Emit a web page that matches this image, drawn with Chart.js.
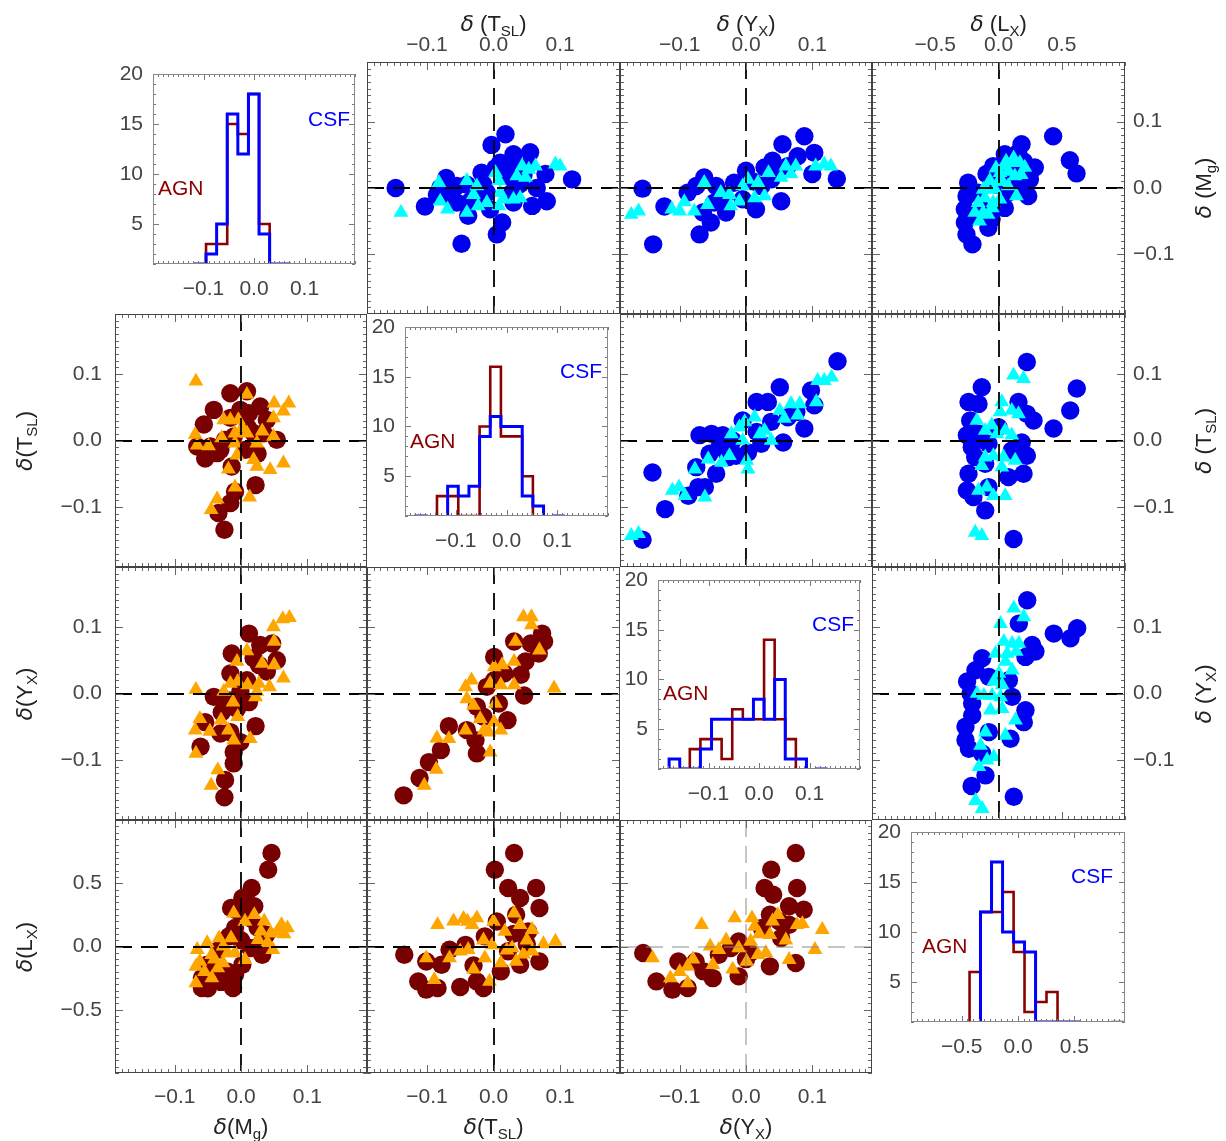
<!DOCTYPE html>
<html><head><meta charset="utf-8">
<script src="https://cdn.jsdelivr.net/npm/chart.js@4.4.1/dist/chart.umd.min.js"></script>
<style>
html,body{margin:0;padding:0;background:#fff;}
#wrap{position:relative;width:1226px;height:1141px;overflow:hidden;background:#fff;}
#wrap canvas{position:absolute;}
.t{position:absolute;font-family:'Liberation Sans',Arial,sans-serif;font-size:22px;color:#222;white-space:nowrap;line-height:1;}
.t i{font-style:italic;font-family:'DejaVu Sans',sans-serif;}
.t sub{font-size:15px;vertical-align:-5px;line-height:0;}
.hl{position:absolute;font-family:'Liberation Sans',Arial,sans-serif;font-size:21px;line-height:1;white-space:nowrap;}
</style></head>
<body><div id="wrap"></div>
<script>
// ---------------- tick labels ----------------
const TICKS_D = [-0.1, 0.0, 0.1];
const TICKS_L = [-0.5, 0.0, 0.5];
const TICKS_N = [5, 10, 15, 20];

// ---------------- CSF (upper triangle): [x, y] ----------------
const csfTslMgCirc = [[-0.147,0.000],[-0.103,-0.028],[-0.048,-0.084],[-0.071,0.015],[-0.080,0.000],[-0.085,-0.010],[-0.065,-0.015],[-0.055,0.003],[-0.055,-0.022],[-0.038,-0.042],[-0.018,0.023],[-0.025,-0.012],[-0.005,-0.032],[-0.003,0.065],[0.018,0.081],[0.010,0.038],[0.030,0.051],[0.055,0.054],[0.013,-0.052],[0.005,-0.070],[0.030,-0.022],[0.040,0.006],[0.058,-0.027],[0.080,-0.020],[0.078,0.021],[0.118,0.013],[0.020,0.018],[-0.010,-0.007],[0.028,-0.007],[-0.035,-0.020],[0.050,0.033],[0.003,0.030],[0.045,0.020],[0.025,0.035],[-0.040,0.005],[-0.015,0.005],[0.065,0.000]];
const csfTslMgTri = [[-0.139,-0.037],[-0.082,0.008],[-0.080,-0.020],[-0.069,-0.032],[-0.040,0.011],[-0.025,0.003],[-0.030,-0.010],[-0.023,-0.027],[-0.040,-0.037],[0.003,0.023],[0.008,0.011],[0.010,-0.007],[0.015,-0.017],[0.008,-0.027],[0.030,-0.017],[0.040,-0.015],[0.035,0.018],[0.043,0.033],[0.053,0.028],[0.063,0.033],[0.048,0.016],[0.093,0.036],[0.100,0.033],[-0.010,-0.022]];
const csfYxMgCirc = [[-0.156,-0.001],[-0.140,-0.085],[-0.123,-0.028],[-0.070,-0.070],[-0.053,-0.052],[-0.065,-0.037],[-0.088,-0.007],[-0.063,0.016],[-0.075,0.003],[-0.045,0.003],[-0.030,-0.037],[-0.048,-0.022],[-0.018,0.008],[0.000,0.026],[-0.005,-0.017],[0.015,-0.032],[0.028,0.031],[0.040,0.041],[0.053,-0.020],[0.055,0.066],[0.088,0.078],[0.078,0.048],[0.103,0.053],[0.100,0.021],[0.137,0.014],[0.023,0.003],[0.038,0.013],[0.063,0.033],[-0.033,-0.012],[0.010,0.010],[0.045,0.025]];
const csfYxMgTri = [[-0.173,-0.040],[-0.162,-0.035],[-0.112,-0.032],[-0.100,-0.035],[-0.093,-0.021],[-0.078,-0.035],[-0.058,-0.025],[-0.063,0.008],[-0.038,-0.007],[-0.025,-0.010],[-0.023,-0.027],[-0.010,-0.020],[-0.005,0.003],[0.003,0.013],[0.018,0.008],[0.013,-0.015],[0.028,-0.012],[0.034,0.023],[0.053,0.016],[0.060,0.033],[0.075,0.033],[0.068,0.021],[0.105,0.033],[0.118,0.036],[0.128,0.033]];
const csfLxMgCirc = [[0.432,0.078],[0.564,0.042],[0.617,0.022],[0.182,0.066],[0.050,0.051],[0.155,0.053],[0.287,0.031],[0.248,0.013],[0.235,-0.012],[-0.042,0.033],[-0.095,0.021],[-0.240,0.008],[-0.253,-0.012],[-0.266,-0.032],[-0.266,-0.052],[-0.253,-0.070],[-0.206,-0.085],[-0.055,-0.047],[0.050,-0.030],[-0.134,-0.032],[-0.161,-0.007],[0.076,-0.007],[0.129,0.023],[0.100,0.045],[0.200,0.040],[-0.020,0.005],[0.020,0.015],[-0.200,-0.040],[0.150,0.000],[-0.080,-0.060]];
const csfLxMgTri = [[-0.187,-0.037],[-0.121,-0.037],[-0.161,-0.022],[-0.108,-0.015],[-0.121,-0.002],[-0.069,0.011],[-0.029,-0.002],[0.011,0.023],[0.050,0.033],[0.103,0.038],[0.169,0.038],[0.208,0.031],[0.129,0.018],[0.076,0.003],[0.142,-0.012],[0.011,-0.017],[-0.042,-0.022],[-0.082,-0.040],[0.080,0.025],[0.030,0.010],[-0.150,-0.050],[-0.100,0.000],[-0.050,-0.030],[0.000,0.010],[0.060,0.040],[0.120,0.045],[0.180,0.020],[-0.020,0.030]];
const csfYxTslCirc = [[-0.156,-0.149],[-0.122,-0.103],[-0.141,-0.048],[-0.087,-0.083],[-0.072,-0.070],[-0.062,-0.070],[-0.075,-0.040],[-0.045,-0.050],[-0.070,0.008],[-0.052,0.010],[-0.035,0.008],[-0.040,-0.010],[-0.027,-0.025],[-0.015,-0.023],[0.003,-0.018],[-0.005,0.030],[0.016,0.058],[0.033,0.058],[0.051,0.080],[0.023,-0.005],[0.056,-0.003],[0.038,0.028],[0.063,0.035],[0.088,0.018],[0.098,0.075],[0.103,0.053],[0.138,0.119],[0.076,0.043],[0.016,0.013],[-0.055,-0.020],[-0.020,0.000]];
const csfYxTslTri = [[-0.173,-0.143],[-0.162,-0.140],[-0.111,-0.075],[-0.101,-0.070],[-0.092,-0.083],[-0.062,-0.085],[-0.077,-0.043],[-0.057,-0.028],[-0.037,-0.033],[-0.025,-0.023],[-0.022,0.010],[-0.010,0.020],[-0.002,0.028],[0.013,0.035],[-0.005,0.000],[0.001,-0.030],[0.003,-0.043],[0.021,0.010],[0.028,0.015],[0.038,0.000],[0.051,0.045],[0.058,0.033],[0.068,0.055],[0.081,0.055],[0.078,0.038],[0.106,0.058],[0.108,0.090],[0.118,0.090],[0.129,0.095]];
const csfLxTslCirc = [[0.224,0.118],[0.619,0.078],[0.567,0.045],[0.435,0.018],[0.277,0.030],[0.224,0.040],[0.158,0.058],[-0.132,0.080],[-0.237,0.058],[-0.158,0.055],[-0.224,0.030],[-0.250,0.008],[-0.211,-0.010],[-0.184,-0.025],[-0.237,-0.050],[-0.250,-0.075],[-0.198,-0.085],[-0.105,-0.105],[-0.079,-0.070],[-0.105,-0.035],[0.079,-0.055],[0.198,-0.050],[0.224,-0.023],[0.184,-0.003],[0.119,-0.148],[-0.079,-0.005],[0.105,-0.015],[-0.150,0.010],[0.000,0.020]];
const csfLxTslTri = [[0.119,0.098],[0.198,0.093],[0.026,0.058],[0.013,0.043],[0.105,0.045],[0.158,0.040],[-0.171,0.030],[-0.105,0.015],[-0.053,0.023],[0.053,0.015],[-0.013,0.010],[0.105,0.008],[-0.105,-0.025],[-0.040,-0.023],[-0.132,-0.038],[0.040,-0.025],[0.132,-0.030],[0.026,-0.040],[-0.158,-0.075],[-0.092,-0.070],[-0.040,-0.083],[0.053,-0.083],[-0.184,-0.138],[-0.132,-0.143]];
const csfLxYxCirc = [[0.227,0.140],[0.161,0.105],[0.437,0.090],[0.569,0.083],[0.622,0.098],[0.266,0.073],[0.292,0.063],[0.213,0.055],[-0.129,0.053],[-0.182,0.035],[-0.248,0.018],[-0.221,0.000],[-0.208,-0.015],[-0.208,-0.033],[-0.261,-0.050],[-0.261,-0.070],[-0.234,-0.083],[-0.129,-0.090],[-0.103,-0.123],[-0.213,-0.139],[0.121,-0.155],[0.095,-0.068],[0.200,-0.043],[0.213,-0.025],[0.108,-0.005],[0.082,0.020],[-0.076,0.025],[-0.076,-0.058]];
const csfLxYxTri = [[0.121,0.128],[0.200,0.115],[0.016,0.105],[0.042,0.078],[0.108,0.075],[0.161,0.075],[-0.024,0.060],[0.069,0.060],[0.140,0.063],[0.055,0.048],[0.108,0.035],[0.003,0.030],[-0.037,0.018],[0.029,0.013],[-0.169,0.000],[-0.116,-0.003],[-0.050,-0.003],[0.016,-0.005],[-0.063,-0.025],[0.029,-0.023],[0.134,-0.040],[-0.103,-0.058],[0.055,-0.063],[-0.142,-0.078],[-0.037,-0.095],[-0.090,-0.100],[-0.155,-0.110],[-0.182,-0.161],[-0.129,-0.173]];

// ---------------- AGN (lower triangle): [x, y] ----------------
const agnMgTslCirc = [[-0.025,-0.134],[-0.034,-0.109],[-0.016,-0.094],[-0.009,-0.077],[0.022,-0.067],[-0.016,0.071],[0.009,0.074],[-0.041,0.046],[-0.056,0.024],[-0.066,-0.009],[-0.054,-0.027],[-0.031,-0.014],[-0.016,0.034],[-0.011,0.006],[-0.024,0.001],[0.007,-0.014],[0.012,0.041],[0.029,0.051],[0.039,0.031],[0.054,0.001],[0.019,0.011],[-0.014,-0.039],[-0.036,-0.019],[0.034,0.011],[-0.001,0.046],[-0.046,-0.009],[0.010,0.020],[0.025,-0.020]];
const agnMgTslTri = [[-0.068,0.089],[0.009,0.069],[0.050,0.056],[0.072,0.056],[0.064,0.044],[0.049,0.034],[-0.026,0.031],[-0.016,0.031],[-0.004,0.031],[0.002,0.019],[-0.009,0.011],[0.009,0.011],[0.032,0.014],[0.049,0.006],[-0.069,0.009],[-0.066,-0.007],[-0.049,-0.008],[-0.029,0.004],[-0.009,-0.004],[0.024,-0.004],[-0.006,-0.022],[0.019,-0.029],[0.024,-0.039],[0.044,-0.044],[0.064,-0.034],[-0.019,-0.043],[-0.009,-0.070],[0.013,-0.085],[-0.036,-0.088],[-0.045,-0.104]];
const agnMgYxCirc = [[-0.025,-0.156],[-0.024,-0.130],[-0.011,-0.105],[-0.011,-0.088],[-0.001,-0.073],[0.022,-0.049],[-0.061,-0.080],[-0.054,-0.043],[-0.041,-0.005],[-0.029,-0.028],[-0.031,-0.060],[-0.016,-0.058],[-0.014,0.060],[-0.016,0.030],[0.012,0.090],[0.029,0.073],[0.047,0.075],[0.054,0.050],[0.027,0.043],[0.009,0.020],[-0.001,0.003],[0.012,-0.013],[-0.006,-0.023],[0.039,0.033],[0.019,0.053],[-0.020,-0.010]];
const agnMgYxTri = [[-0.068,0.006],[-0.062,-0.038],[-0.069,-0.055],[-0.047,-0.057],[-0.068,-0.090],[-0.030,-0.040],[-0.019,-0.055],[-0.011,-0.070],[-0.005,-0.035],[-0.012,-0.013],[-0.026,0.003],[-0.016,0.015],[-0.005,0.018],[-0.006,0.048],[0.009,0.064],[0.010,0.013],[0.022,-0.005],[0.024,0.003],[0.032,0.045],[0.027,0.015],[0.043,0.010],[0.050,0.043],[0.050,0.078],[0.049,0.100],[0.063,0.112],[0.073,0.114],[0.064,0.023],[0.014,-0.068],[-0.035,-0.115],[-0.045,-0.138]];
const agnTslYxCirc = [[-0.135,-0.153],[-0.111,-0.127],[-0.097,-0.103],[-0.079,-0.085],[-0.067,-0.049],[-0.040,-0.055],[-0.027,-0.070],[-0.025,-0.090],[-0.015,-0.035],[0.008,-0.015],[0.021,-0.040],[-0.010,0.010],[0.001,0.055],[0.016,0.030],[0.041,0.028],[0.046,-0.003],[0.048,0.048],[0.031,0.078],[0.056,0.075],[0.073,0.090],[0.076,0.078],[0.068,0.060],[-0.025,-0.020],[0.001,0.020]];
const agnTslYxTri = [[-0.104,-0.138],[-0.086,-0.114],[-0.085,-0.067],[-0.067,-0.068],[-0.042,-0.055],[-0.020,-0.038],[-0.030,-0.018],[-0.040,-0.008],[-0.042,0.010],[-0.033,0.020],[-0.005,0.015],[0.001,0.040],[0.013,0.043],[0.031,0.048],[0.011,0.013],[0.031,0.013],[0.003,-0.015],[0.001,-0.043],[0.011,-0.055],[-0.007,-0.058],[-0.005,-0.088],[0.033,0.078],[0.045,0.115],[0.057,0.115],[0.057,0.103],[0.069,0.065],[0.091,0.008],[-0.014,-0.055]];
const agnMgLxCirc = [[0.046,0.739],[0.041,0.607],[0.016,0.462],[0.002,0.383],[0.020,0.318],[-0.015,0.304],[0.014,0.225],[-0.009,0.146],[-0.018,0.081],[0.038,0.093],[0.032,-0.065],[-0.033,-0.025],[-0.051,-0.144],[-0.059,-0.249],[-0.059,-0.328],[-0.009,-0.223],[-0.012,-0.328],[0.002,-0.144],[0.014,-0.012],[-0.045,-0.200],[-0.030,-0.280],[-0.050,-0.330],[-0.020,-0.200],[0.000,0.050],[0.025,0.150],[0.010,0.330],[-0.005,0.280],[0.030,0.020]];
const agnMgLxTri = [[0.061,0.172],[0.070,0.146],[0.045,0.106],[0.048,-0.025],[0.020,0.251],[-0.011,0.264],[0.006,0.198],[-0.015,0.067],[-0.027,0.002],[-0.009,-0.051],[0.006,-0.104],[-0.044,-0.065],[-0.066,-0.025],[-0.062,-0.118],[-0.068,-0.157],[-0.068,-0.289],[-0.044,-0.249],[-0.027,-0.131],[0.026,0.054],[-0.033,0.067],[-0.051,0.028],[0.035,0.200],[0.055,0.120],[0.040,0.030],[0.065,0.100],[0.030,0.120],[-0.055,-0.200],[-0.040,-0.100],[-0.020,-0.050],[-0.035,-0.170]];
const agnTslLxCirc = [[0.031,0.739],[0.002,0.607],[0.022,0.462],[0.064,0.462],[0.040,0.383],[0.069,0.304],[0.034,0.251],[0.005,0.198],[0.052,0.119],[-0.013,0.080],[-0.042,0.013],[-0.066,-0.025],[-0.134,-0.065],[-0.101,-0.118],[-0.078,-0.144],[-0.113,-0.276],[-0.084,-0.328],[-0.101,-0.341],[-0.025,-0.276],[-0.015,-0.328],[0.011,-0.197],[0.040,-0.144],[0.069,-0.118],[0.022,-0.038],[0.030,0.100],[-0.030,-0.150],[0.050,0.020],[-0.050,-0.320]];
const agnTslLxTri = [[-0.084,0.172],[-0.039,0.198],[-0.025,0.225],[-0.032,0.172],[0.000,0.198],[0.031,0.264],[0.040,0.172],[0.017,0.119],[0.058,0.133],[0.093,0.040],[0.058,-0.038],[0.028,-0.012],[-0.002,0.013],[-0.038,-0.025],[-0.066,-0.091],[-0.101,-0.091],[-0.089,-0.263],[-0.006,-0.276],[0.011,-0.131],[0.034,-0.118],[-0.050,-0.038],[-0.013,-0.091],[-0.060,0.200],[-0.045,0.220],[0.050,0.050],[0.075,0.020],[0.020,-0.030],[-0.030,-0.180],[0.045,-0.060],[-0.015,0.050]];
const agnYxLxCirc = [[0.075,0.739],[0.038,0.607],[0.028,0.462],[0.077,0.462],[0.041,0.409],[0.065,0.318],[0.087,0.291],[0.036,0.251],[0.065,0.172],[0.024,0.146],[0.053,0.067],[-0.011,0.040],[-0.023,-0.012],[0.006,-0.051],[-0.041,-0.065],[-0.076,-0.118],[-0.102,-0.118],[-0.155,-0.051],[-0.064,-0.197],[-0.011,-0.236],[0.036,-0.157],[0.075,-0.131],[-0.135,-0.276],[-0.111,-0.341],[-0.088,-0.328],[0.050,0.200],[0.000,-0.100],[-0.050,-0.250]];
const agnYxLxTri = [[-0.067,0.172],[-0.017,0.225],[0.009,0.225],[0.013,0.159],[0.048,0.251],[0.077,0.172],[0.115,0.133],[0.036,0.093],[0.007,0.040],[-0.041,-0.025],[-0.011,-0.012],[0.018,-0.065],[0.001,-0.118],[0.065,-0.104],[0.104,-0.025],[-0.050,-0.144],[-0.088,-0.157],[-0.141,-0.091],[-0.114,-0.249],[-0.088,-0.289],[-0.054,0.002],[0.020,0.100],[0.040,0.200],[-0.030,0.050],[0.060,0.050],[-0.080,-0.100],[-0.020,-0.180],[0.030,-0.050],[0.085,0.180],[-0.100,-0.200]];

// ---------------- histograms: bin edges and counts ----------------
const histMgEdges = [-0.116,-0.095,-0.074,-0.053,-0.032,-0.011,0.010,0.031,0.052,0.073];
const histMgCSF   = [1,2,5,16,12,18,4,1,1];
const histMgAGN   = [0,3,3,15,14,18,5,0,0];
const histTslEdges = [-0.179,-0.158,-0.137,-0.116,-0.095,-0.074,-0.053,-0.032,-0.011,0.010,0.031,0.052,0.073,0.094,0.115];
const histTslCSF   = [1,0,0,4,3,4,9,11,10,10,3,2,0,1];
const histTslAGN   = [0,0,3,3,1,1,10,16,9,9,5,0,0,0];
const histYxEdges = [-0.178,-0.157,-0.137,-0.116,-0.094,-0.074,-0.053,-0.032,-0.011,0.010,0.031,0.052,0.073,0.094,0.115,0.136];
const histYxCSF   = [2,1,1,3,6,6,6,6,8,6,10,2,2,0,1];
const histYxAGN   = [1,1,3,4,4,2,7,6,6,14,6,4,0,0,0];
const histLxEdges = [-0.43,-0.333,-0.235,-0.137,-0.039,0.058,0.156,0.253,0.351,0.448,0.546,0.643,0.741,0.838,0.936];
const histLxCSF   = [0,12,17,10,9,8,1,1,1,1,0,0,0,0];
const histLxAGN   = [6,12,12,14,8,2,3,4,0,0,0,0,0,1];

// ---------------- styling / layout ----------------
const COL = {csfCirc:'#0000ee', csfTri:'#00ffff', agnCirc:'#780000', agnTri:'#ffa500', csfLine:'#0000ff', agnLine:'#8b0000'};
const FONT = {family:"'Liberation Sans', Arial, sans-serif", size:21};
const TXT = '#444';
const COLX = [115,367,620,872,1125];
const ROWY = [62,314,567,820,1073];
const AX = [
  {min:-0.19, max:0.19, major:TICKS_D, minor:0.01},
  {min:-0.19, max:0.19, major:TICKS_D, minor:0.01},
  {min:-0.19, max:0.19, major:TICKS_D, minor:0.01},
  {min:-1.0,  max:1.0,  major:TICKS_L, minor:0.05}
];
const HX = [
  {min:-0.2, max:0.2, major:TICKS_D, minor:0.01},
  {min:-0.2, max:0.2, major:TICKS_D, minor:0.01},
  {min:-0.2, max:0.2, major:TICKS_D, minor:0.01},
  {min:-0.95, max:0.95, major:TICKS_L, minor:0.05}
];
const HY = {min:1, max:20, major:TICKS_N, minor:1};
const HIST = [
  {edges:histMgEdges, csf:histMgCSF, agn:histMgAGN, area:{l:153,t:74,w:202,h:190}},
  {edges:histTslEdges, csf:histTslCSF, agn:histTslAGN, area:{l:405,t:327,w:203,h:189}},
  {edges:histYxEdges, csf:histYxCSF, agn:histYxAGN, area:{l:658,t:580,w:202,h:189}},
  {edges:histLxEdges, csf:histLxCSF, agn:histLxAGN, area:{l:911,t:832,w:214,h:190}}
];
const PANELS = [
  [0,1,csfTslMgCirc,csfTslMgTri,'csf'],[0,2,csfYxMgCirc,csfYxMgTri,'csf'],[0,3,csfLxMgCirc,csfLxMgTri,'csf'],
  [1,2,csfYxTslCirc,csfYxTslTri,'csf'],[1,3,csfLxTslCirc,csfLxTslTri,'csf'],[2,3,csfLxYxCirc,csfLxYxTri,'csf'],
  [1,0,agnMgTslCirc,agnMgTslTri,'agn'],[2,0,agnMgYxCirc,agnMgYxTri,'agn'],[2,1,agnTslYxCirc,agnTslYxTri,'agn'],
  [3,0,agnMgLxCirc,agnMgLxTri,'agn'],[3,1,agnTslLxCirc,agnTslLxTri,'agn'],[3,2,agnYxLxCirc,agnYxLxTri,'agn']
];
const VAR_LABELS = [['M','g'],['T','SL'],['Y','X'],['L','X']];

const wrap = document.getElementById('wrap');
function fmt(v){ if (Math.abs(v) < 1e-9) return '0.0'; return (v < 0 ? '\u2212' : '') + Math.abs(v).toFixed(1); }
function fmtN(v){ return String(Math.round(v)); }
function steps(min, max, st){ const o=[]; for (let k=Math.ceil(min/st-1e-6); k*st <= max+1e-9; k++) o.push(k*st); return o; }

const decorPlugin = {
  id:'decor',
  afterDatasetsDraw(chart){
    const d = chart.canvas._decor; if (!d) return;
    const ctx = chart.ctx, a = chart.chartArea, sx = chart.scales.x, sy = chart.scales.y;
    if (d.zero) {
      ctx.save();
      ctx.beginPath(); ctx.rect(a.left, a.top, a.right-a.left, a.bottom-a.top); ctx.clip();
      ctx.strokeStyle = d.zeroColor; ctx.lineWidth = d.zeroWidth; ctx.setLineDash([17,9]);
      const px = Math.round(sx.getPixelForValue(0)), py = Math.round(sy.getPixelForValue(0));
      ctx.beginPath(); ctx.moveTo(px, a.top); ctx.lineTo(px, a.bottom); ctx.stroke();
      ctx.beginPath(); ctx.moveTo(a.left, py); ctx.lineTo(a.right, py); ctx.stroke();
      ctx.restore();
    }
    ctx.save();
    ctx.lineWidth = 1; ctx.strokeStyle = d.tickColor; ctx.beginPath();
    steps(d.ax.min, d.ax.max, d.ax.minor).forEach(v => {
      const L = d.ax.major.some(m => Math.abs(m-v) < 1e-6) ? d.majLen : d.minLen;
      const p = Math.round(sx.getPixelForValue(v)) + 0.5;
      ctx.moveTo(p, a.top); ctx.lineTo(p, a.top + L);
      ctx.moveTo(p, a.bottom); ctx.lineTo(p, a.bottom - L);
    });
    steps(d.ay.min, d.ay.max, d.ay.minor).forEach(v => {
      const L = d.ay.major.some(m => Math.abs(m-v) < 1e-6) ? d.majLen : d.minLen;
      const p = Math.round(sy.getPixelForValue(v)) + 0.5;
      ctx.moveTo(a.left, p); ctx.lineTo(a.left + L, p);
      ctx.moveTo(a.right, p); ctx.lineTo(a.right - L, p);
    });
    ctx.stroke();
    ctx.strokeStyle = d.frameColor;
    ctx.strokeRect(a.left + 0.5, a.top + 0.5, a.right - a.left - 1, a.bottom - a.top - 1);
    ctx.restore();
  }
};

function build(type, area, mar, ax, ay, xLab, yLab, datasets, decor){
  const cv = document.createElement('canvas');
  const W = area.w + mar.l + mar.r, H = area.h + mar.t + mar.b;
  cv.width = W; cv.height = H;
  cv.style.left = (area.l - mar.l) + 'px'; cv.style.top = (area.t - mar.t) + 'px';
  cv.style.width = W + 'px'; cv.style.height = H + 'px';
  wrap.appendChild(cv);
  cv._decor = decor;
  const side = {top:'t', bottom:'b', left:'l', right:'r'};
  const pad = {left:mar.l, right:mar.r, top:mar.t, bottom:mar.b};
  if (xLab) pad[xLab.pos] = 0;
  if (yLab) pad[yLab.pos] = 0;
  const mk = (axis, lab, horiz) => {
    const s = {type:'linear', min:axis.min, max:axis.max, display:!!lab,
      grid:{display:false, drawTicks:false}, border:{display:false}};
    if (lab) {
      const size = mar[side[lab.pos]];
      s.position = lab.pos;
      s.ticks = {font:FONT, color:TXT, padding:lab.pad, autoSkip:false, maxRotation:0, minRotation:0,
        callback:(v) => lab.fmt(v)};
      s.afterBuildTicks = sc => { sc.ticks = axis.major.map(v => ({value:v})); };
      s.afterFit = sc => {
        if (horiz) sc.height = size; else sc.width = size;
        sc.paddingLeft = 0; sc.paddingRight = 0; sc.paddingTop = 0; sc.paddingBottom = 0;
      };
    }
    return s;
  };
  return new Chart(cv, {
    type, data:{datasets},
    options:{responsive:false, animation:false, events:[],
      layout:{padding:pad, autoPadding:false},
      plugins:{legend:{display:false}, tooltip:{enabled:false}},
      scales:{x:mk(ax, xLab, true), y:mk(ay, yLab, false)}},
    plugins:[decorPlugin]
  });
}

const toXY = arr => arr.map(p => ({x:p[0], y:p[1]}));

// scatter panels
PANELS.forEach(([r, c, circ, tri, g]) => {
  const area = {l:COLX[c], t:ROWY[r], w:COLX[c+1]-COLX[c], h:ROWY[r+1]-ROWY[r]};
  const mar = {l: c===0 ? 115 : 0, r: (c===3 && r<3) ? 101 : 0, t: r===0 ? 62 : 0, b: r===3 ? 68 : 0};
  const xLab = r===0 ? {pos:'top', pad:4, fmt} : (r===3 ? {pos:'bottom', pad:12, fmt} : null);
  const yLab = c===0 ? {pos:'left', pad:13, fmt} : ((c===3 && r<3) ? {pos:'right', pad:8, fmt} : null);
  const csf = g === 'csf';
  const ds = [
    {data:toXY(tri), pointStyle:'triangle', pointRadius:8.6, backgroundColor:csf?COL.csfTri:COL.agnTri, borderColor:csf?COL.csfTri:COL.agnTri, pointBorderWidth:0, showLine:false},
    {data:toXY(circ), pointStyle:'circle', pointRadius:9.2, backgroundColor:csf?COL.csfCirc:COL.agnCirc, borderColor:csf?COL.csfCirc:COL.agnCirc, pointBorderWidth:0, showLine:false}
  ];
  const faint = (r === 3 && c === 2);
  build('scatter', area, mar, AX[c], AX[r], xLab, yLab, ds,
    {ax:AX[c], ay:AX[r], zero:true, zeroColor: faint ? '#8a8a8a' : '#000', zeroWidth: faint ? 1 : 1.8, tickColor:'#666', frameColor:'#444', majLen:8, minLen:4});
});

// histograms on the diagonal
function histPts(edges, counts){
  const p = [{x:edges[0], y:0}];
  counts.forEach((c, i) => p.push({x:edges[i], y:c}));
  p.push({x:edges[edges.length-1], y:counts[counts.length-1]});
  return p;
}
HIST.forEach((h, i) => {
  const area = h.area;
  const mar = {l: area.l - COLX[i], t: area.t - ROWY[i], r: COLX[i+1] - (area.l + area.w), b: ROWY[i+1] - (area.t + area.h)};
  const ds = [
    {data:histPts(h.edges, h.csf), stepped:true, borderColor:COL.csfLine, borderWidth:3, pointRadius:0, fill:false},
    {data:histPts(h.edges, h.agn), stepped:true, borderColor:COL.agnLine, borderWidth:2.6, pointRadius:0, fill:false}
  ];
  build('line', area, mar, HX[i], HY, {pos:'bottom', pad:13, fmt}, {pos:'left', pad:10, fmt:fmtN}, ds,
    {ax:HX[i], ay:HY, zero:false, tickColor:'#777', frameColor:'#888', majLen:6, minLen:3});
});

// axis titles (HTML text)
function title(v, spaced){
  const s = VAR_LABELS[v];
  return '<i>\u03b4</i>' + (spaced ? ' ' : '') + '(' + s[0] + '<sub>' + s[1] + '</sub>)';
}
function addDiv(cls, html, x, y, tf, color){
  const d = document.createElement('div');
  d.className = cls; d.innerHTML = html;
  d.style.left = x + 'px'; d.style.top = y + 'px';
  d.style.transform = tf;
  if (color) d.style.color = color;
  wrap.appendChild(d);
}
for (let c = 1; c < 4; c++) addDiv('t', title(c, true), (COLX[c]+COLX[c+1])/2, 24, 'translate(-50%,-50%)');
for (let r = 0; r < 3; r++) addDiv('t', title(r, true), 1204, (ROWY[r]+ROWY[r+1])/2, 'translate(-50%,-50%) rotate(-90deg)');
for (let r = 1; r < 4; r++) addDiv('t', title(r, false), 25, (ROWY[r]+ROWY[r+1])/2, 'translate(-50%,-50%) rotate(-90deg)');
for (let c = 0; c < 3; c++) addDiv('t', title(c, false), (COLX[c]+COLX[c+1])/2, 1127, 'translate(-50%,-50%)');

// histogram labels
const HLAB = [[350,118,158,187],[602,370,410,440],[854,623,663,692],[1113,875,922,945]];
HLAB.forEach(([cx, cy, ax, ayy]) => {
  addDiv('hl', 'CSF', cx, cy, 'translate(-100%,-50%)', COL.csfLine);
  addDiv('hl', 'AGN', ax, ayy, 'translate(0,-50%)', COL.agnLine);
});
</script>
</body></html>
